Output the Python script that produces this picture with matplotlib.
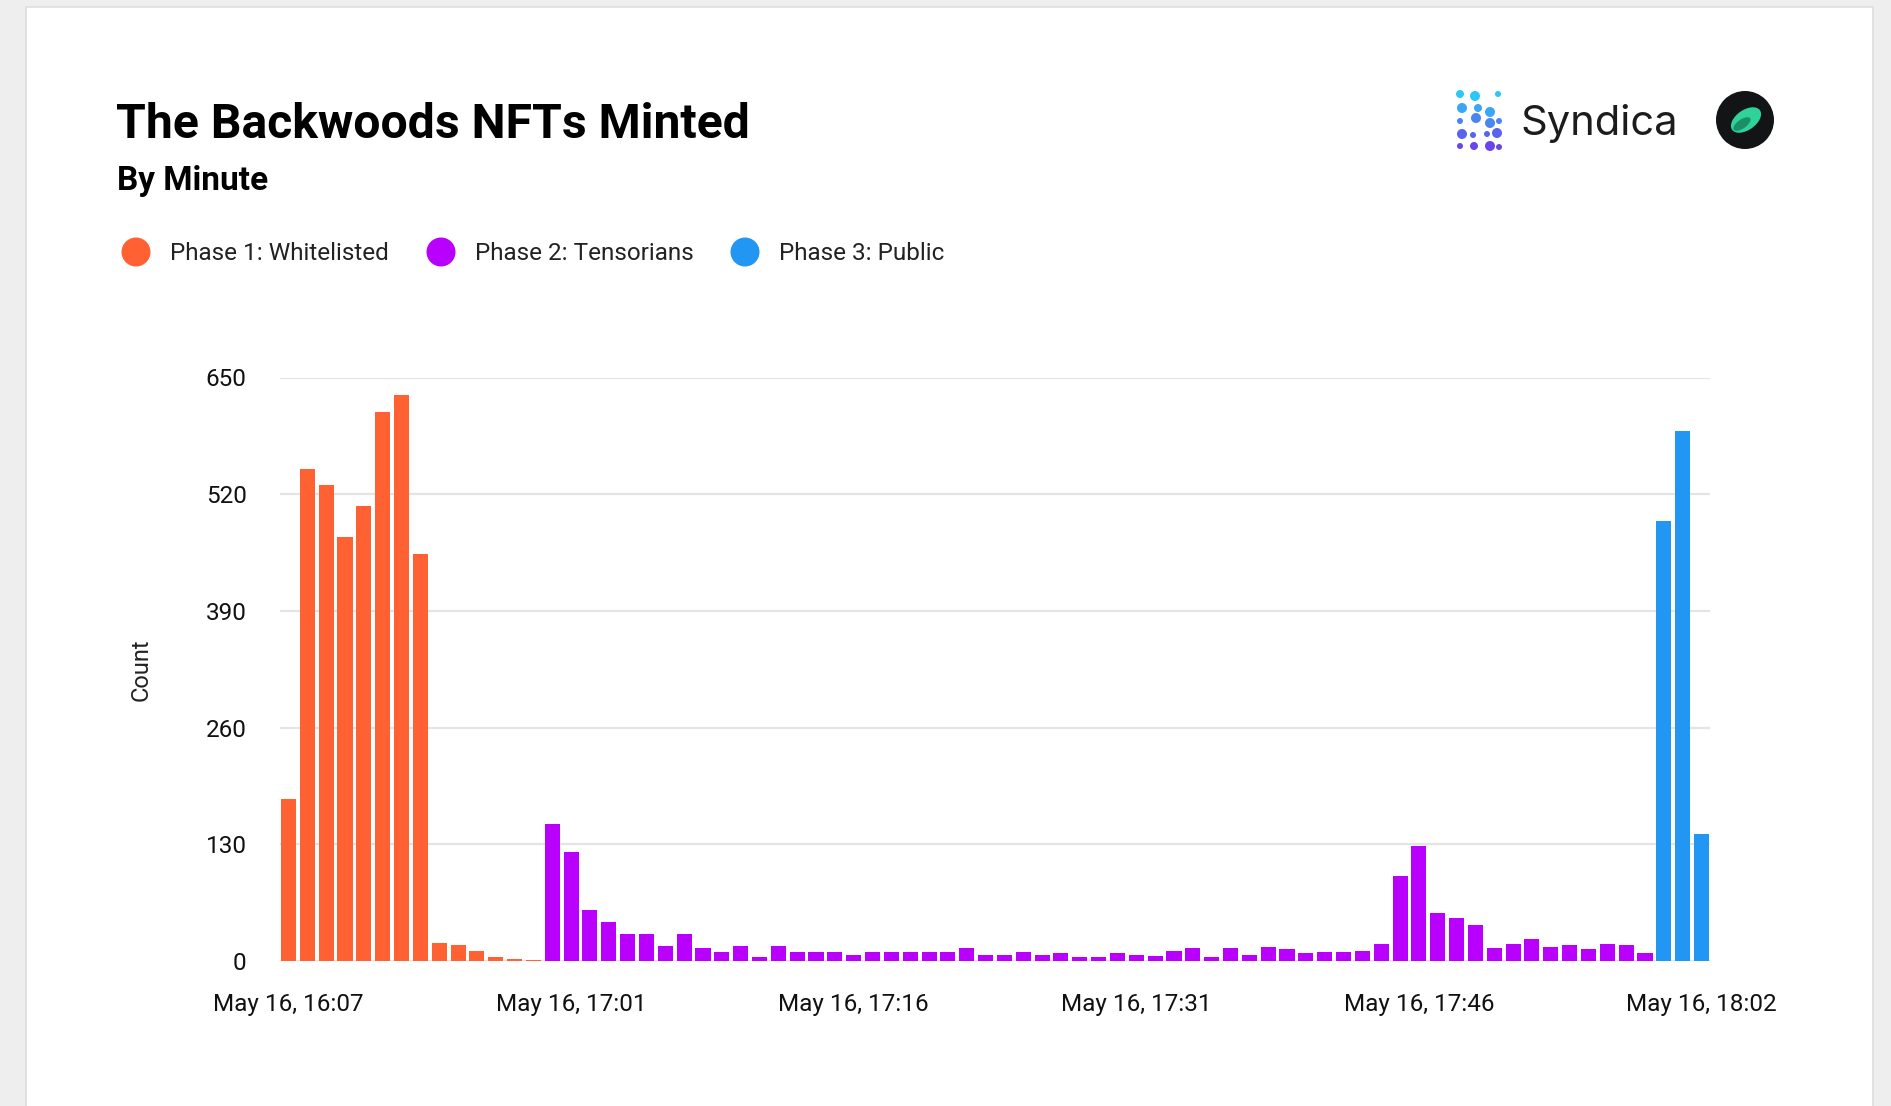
import matplotlib.pyplot as plt
from matplotlib.patches import Rectangle, Circle, Ellipse

# minted count per minute
phase1 = [181, 548, 530, 472, 507, 612, 631, 453, 20, 18, 11, 5, 2, 1]
phase2 = [153, 121, 57, 44, 30, 30, 17, 30, 15, 10, 17, 4, 17, 10, 10, 10, 7, 10,
          10, 10, 10, 10, 14, 7, 7, 10, 7, 9, 4, 4, 9, 7, 6, 11, 14, 4, 15, 7,
          16, 13, 9, 10, 10, 11, 19, 95, 128, 54, 48, 40, 15, 19, 24, 16, 18,
          13, 19, 18, 9]
phase3 = [490, 590, 142]

series_names = ['Phase 1: Whitelisted', 'Phase 2: Tensorians', 'Phase 3: Public']
colors = ['#FF6132', '#B900FF', '#2196F3']

tick_labels = ['May 16, 16:07', 'May 16, 17:01', 'May 16, 17:16',
               'May 16, 17:31', 'May 16, 17:46', 'May 16, 18:02']
y_ticks = [0, 130, 260, 390, 520, 650]

W, H = 1891, 1106
plt.rcParams['font.family'] = ['Roboto', 'DejaVu Sans']

fig = plt.figure(figsize=(W / 100, H / 100), dpi=100)
fig.patch.set_facecolor('#eeeeee')


def fx(x):
    return x / W


def fy(y):
    return 1 - y / H


# background layer in pixel coords (card, legend dots, logos)
bg = fig.add_axes([0, 0, 1, 1], zorder=-1)
bg.set_xlim(0, W)
bg.set_ylim(H, 0)
bg.axis('off')
bg.add_patch(Rectangle((26, 7), 1873 - 26, H, facecolor='white',
                       edgecolor='#dedede', linewidth=1.2))

# titles
fig.text(fx(116), fy(138), 'The Backwoods NFTs Minted', fontsize=34.7, fontweight='bold',
         color='black', va='baseline')
fig.text(fx(117), fy(190), 'By Minute', fontsize=24, fontweight='bold',
         color='black', va='baseline')

# legend
leg_x = [136, 441, 745]
for cx, name, c in zip(leg_x, series_names, colors):
    bg.add_patch(Circle((cx, 252), 14.5, facecolor=c, edgecolor='none'))
    fig.text(fx(cx + 34), fy(253), name, fontsize=17.5, color='#222222', va='center')

# logos (rough)
dots = [(1460, 94, 4), (1475, 96, 5), (1498, 94, 3),
        (1462, 108, 5), (1478, 108, 4), (1490, 112, 5),
        (1460, 121, 3), (1476, 118, 5), (1490, 123, 5), (1499, 121, 3),
        (1462, 134, 5), (1473, 135, 3), (1487, 134, 3), (1497, 133, 5),
        (1460, 146, 3), (1474, 146, 4), (1490, 146, 5), (1499, 147, 3)]
grad = ['#2bc8f5', '#3aa6f4', '#4a85f2', '#5a63f0', '#6a45ee']
for x, y, r in dots:
    c = grad[min(4, int((y - 92) / 12))]
    bg.add_patch(Circle((x, y), r, facecolor=c, edgecolor='none'))
bg.text(1520, 135, 'Syndica', fontsize=30, color='#1c1c1c', va='baseline',
        family=['Inter', 'DejaVu Sans'])
bg.add_patch(Circle((1745, 120), 29, facecolor='#121416', edgecolor='none'))
bg.add_patch(Ellipse((1746, 120), 34, 20, angle=-35, facecolor='#2fd39a', edgecolor='none'))
bg.add_patch(Ellipse((1742, 124), 20, 9, angle=-35, facecolor='#1a8f68', edgecolor='none'))

# chart
ax = fig.add_axes([fx(280), fy(961), fx(1710) - fx(280), fy(377.5) - fy(961)])
ax.set_facecolor('none')
counts = phase1 + phase2 + phase3
bar_colors = ([colors[0]] * len(phase1) + [colors[1]] * len(phase2)
              + [colors[2]] * len(phase3))
idx = list(range(len(counts)))
ax.bar(idx, counts, width=0.8, color=bar_colors, zorder=3)

ax.set_xlim(-0.45, len(counts) - 0.55)
ax.set_ylim(0, 650)
ax.set_yticks(y_ticks)
ax.set_yticklabels([str(v) for v in y_ticks])
ax.set_xticks(idx[::15])
ax.set_xticklabels(tick_labels)
ax.grid(True, axis='y', color='#e4e4e4', linewidth=1.6, zorder=0)
for s in ax.spines.values():
    s.set_visible(False)
ax.tick_params(axis='y', length=0, pad=24, labelsize=17.5, labelcolor='#111111')
ax.tick_params(axis='x', length=0, pad=23, labelsize=17.5, labelcolor='#111111')
ax.set_ylabel('Count', fontsize=17, color='#222222', labelpad=38)

fig.savefig('out.png', dpi=100)
